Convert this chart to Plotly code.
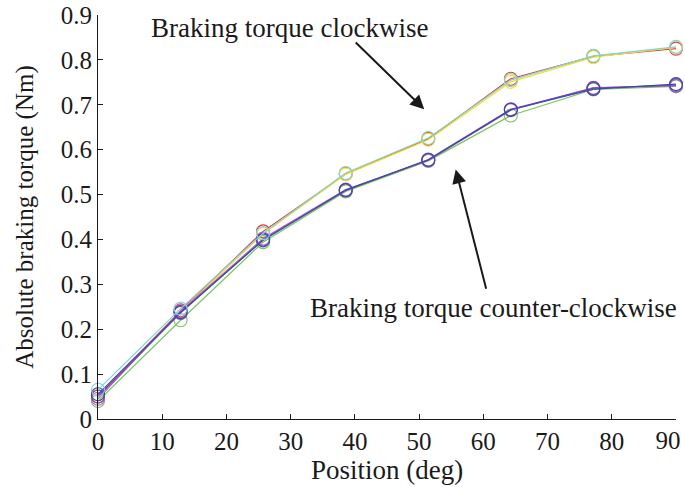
import plotly.graph_objects as go

positions = [0, 12.857, 25.714, 38.571, 51.429, 64.286, 77.143, 90]
x_ticks = list(range(0, 91, 10))
x_ticktext = [str(v) for v in x_ticks[:-1]] + [""]
x_last_tick = [x_ticks[-1]]
x_last_text = [str(x_ticks[-1])]
y_ticks = [i / 10 for i in range(10)]
y_ticktext = ["0"] + [f"{v:.1f}" for v in y_ticks[1:]]

# clockwise runs
cw_red    = [0.050, 0.242, 0.418, 0.546, 0.624, 0.758, 0.808, 0.825]
cw_yellow = [0.055, 0.240, 0.412, 0.545, 0.622, 0.751, 0.806, 0.828]
cw_cyan   = [0.065, 0.246, 0.414, 0.548, 0.626, 0.755, 0.809, 0.829]
# counter-clockwise runs
ccw_blue    = [0.055, 0.238, 0.398, 0.510, 0.577, 0.689, 0.735, 0.746]
ccw_purple  = [0.050, 0.236, 0.400, 0.509, 0.578, 0.690, 0.737, 0.744]
ccw_magenta = [0.045, 0.240, 0.402, 0.511, 0.576, 0.688, 0.738, 0.742]
ccw_green   = [0.040, 0.220, 0.394, 0.507, 0.575, 0.676, 0.734, 0.741]

series = [
    (cw_cyan, "#7fd3e0", "x2"),
    (cw_red, "#e8383a", "x"),
    (cw_yellow, "#f5e31a", "x"),
    (ccw_green, "#72c85a", "x"),
    (ccw_magenta, "#c45ac8", "x"),
    (ccw_purple, "#7a4bbf", "x"),
    (ccw_blue, "#3a4aa8", "x"),
]

fig = go.Figure()
for vals, col, xa in series:
    fig.add_trace(go.Scatter(
        x=positions, y=vals, mode="lines+markers", xaxis=xa,
        line=dict(color=col, width=1.2),
        marker=dict(symbol="circle-open", size=13, color=col, line=dict(width=1.1)),
        showlegend=False, cliponaxis=False))

fam = "Liberation Serif, Times New Roman, serif"
ink = "#1a1a1a"

fig.update_layout(
    width=685, height=487,
    margin=dict(l=98, r=8.5, t=15, b=68),
    paper_bgcolor="white", plot_bgcolor="white",
    font=dict(size=25, family=fam, color=ink),
    xaxis=dict(range=[0, 90], tickvals=x_ticks, ticktext=x_ticktext,
               showline=True, linecolor=ink, linewidth=1,
               ticks="inside", ticklen=5, tickcolor=ink,
               showgrid=False, zeroline=False, ticklabeloverflow="allow",
               automargin=False,
               title=dict(text="Position (deg)", font=dict(size=27, family=fam, color=ink), standoff=0),
               tickfont=dict(size=25, family=fam, color=ink)),
    xaxis2=dict(range=[0, 90], matches="x", overlaying="x", side="bottom",
                tickvals=x_last_tick, ticktext=x_last_text, ticklabelshift=-8,
                ticklabelstandoff=4,
                showline=False, ticks="", showgrid=False, zeroline=False,
                ticklabeloverflow="allow", automargin=False,
                tickfont=dict(size=25, family=fam, color=ink)),
    yaxis=dict(range=[0, 0.9], tickvals=y_ticks, ticktext=y_ticktext,
               showline=True, linecolor=ink, linewidth=1,
               ticks="inside", ticklen=5, tickcolor=ink,
               showgrid=False, zeroline=False, ticklabeloverflow="allow",
               automargin=False,
               title=dict(text="Absolute braking torque (Nm)", font=dict(size=25, family=fam, color=ink), standoff=20),
               tickfont=dict(size=25, family=fam, color=ink)),
)

# arrows (positions in data coords)
fig.add_annotation(x=50.8, y=0.690, ax=39.9, ay=0.842, xref="x", yref="y",
                   axref="x", ayref="y", text="", showarrow=True,
                   arrowhead=2, arrowsize=1.4, arrowwidth=2, arrowcolor=ink)
fig.add_annotation(x=55.7, y=0.556, ax=60.5, ay=0.287, xref="x", yref="y",
                   axref="x", ayref="y", text="", showarrow=True,
                   arrowhead=2, arrowsize=1.4, arrowwidth=2, arrowcolor=ink)

fig.add_annotation(x=29.8, y=0.871, xref="x", yref="y", text="Braking torque clockwise",
                   showarrow=False, font=dict(size=27, family=fam, color=ink))
fig.add_annotation(x=61.6, y=0.247, xref="x", yref="y", text="Braking torque counter-clockwise",
                   showarrow=False, font=dict(size=27, family=fam, color=ink))

fig.write_html("out.html")
